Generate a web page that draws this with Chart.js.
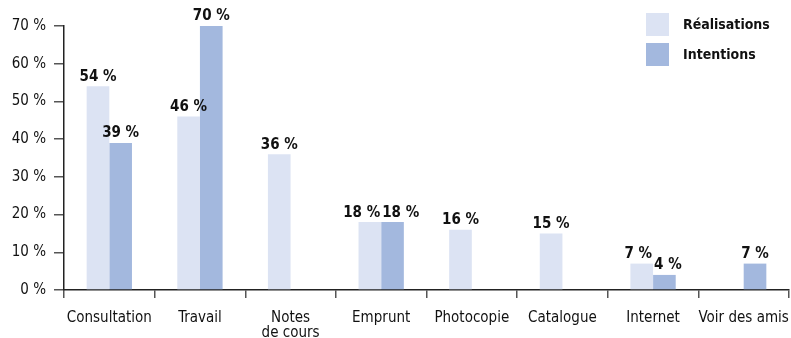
<!DOCTYPE html>
<html>
<head>
<meta charset="utf-8">
<script src="https://cdn.jsdelivr.net/npm/chart.js@4"></script>
<style>
  html, body { margin: 0; padding: 0; background: #fff; }
  #wrap { width: 791px; height: 338px; }
</style>
</head>
<body>
<div id="wrap"><canvas id="c" width="791" height="338"></canvas></div>
<script>
const categories = ['Consultation', 'Travail', ['Notes', 'de cours'], 'Emprunt', 'Photocopie', 'Catalogue', 'Internet', 'Voir des amis'];
const realisations = [54, 46, 36, 18, 16, 15, 7, null];
const intentions = [39, 70, null, 18, null, null, 4, 7];
const yTicks = [0, 10, 20, 30, 40, 50, 60, 70];

const FONT = "'Liberation Sans Narrow', 'DejaVu Sans Condensed', 'Noto Sans', sans-serif";
const LIGHT = 'rgb(220,227,243)';
const DARK = 'rgb(163,184,222)';

// Value labels above each bar; side-by-side labels at the same height are pushed apart
const valueLabels = {
  id: 'valueLabels',
  afterDatasetsDraw(chart) {
    const ctx = chart.ctx;
    ctx.save();
    ctx.font = "bold 15px " + FONT;
    ctx.fillStyle = '#111';
    ctx.textAlign = 'center';
    ctx.textBaseline = 'bottom';
    const n = chart.data.labels.length;
    for (let j = 0; j < n; j++) {
      const items = [];
      chart.data.datasets.forEach((ds, i) => {
        const v = ds.data[j];
        if (v === null || v === undefined) return;
        const bar = chart.getDatasetMeta(i).data[j];
        const text = v + ' %';
        items.push({ text, x: bar.x, y: bar.y - 2, w: ctx.measureText(text).width });
      });
      if (items.length === 2 && Math.abs(items[0].y - items[1].y) < 13) {
        const need = (items[0].w + items[1].w) / 2 + 2;
        const have = items[1].x - items[0].x;
        if (have < need) {
          const d = (need - have) / 2;
          items[0].x -= d;
          items[1].x += d;
        }
      }
      items.forEach(it => ctx.fillText(it.text, it.x, it.y));
    }
    ctx.restore();
  }
};

// Legend boxes in the top right corner
const cornerLegend = {
  id: 'cornerLegend',
  afterDraw(chart) {
    const ctx = chart.ctx;
    ctx.save();
    ctx.font = "bold 14px " + FONT;
    ctx.textBaseline = 'middle';
    ctx.textAlign = 'left';
    chart.data.datasets.forEach((ds, i) => {
      const y = 13 + i * 30;
      ctx.fillStyle = ds.backgroundColor;
      ctx.fillRect(646, y, 23, 23);
      ctx.fillStyle = '#111';
      ctx.fillText(ds.label, 683, y + 12);
    });
    ctx.restore();
  }
};

new Chart(document.getElementById('c'), {
  type: 'bar',
  data: {
    labels: categories,
    datasets: [
      { label: 'Réalisations', data: realisations, backgroundColor: LIGHT },
      { label: 'Intentions', data: intentions, backgroundColor: DARK }
    ]
  },
  options: {
    responsive: false,
    animation: false,
    layout: { padding: { top: 26, right: 2, left: 0, bottom: 0 } },
    plugins: { legend: { display: false }, tooltip: { enabled: false } },
    datasets: { bar: { categoryPercentage: 0.5, barPercentage: 1.0 } },
    scales: {
      x: {
        grid: { display: true, drawOnChartArea: false, drawTicks: true, tickLength: 8, color: '#555', lineWidth: 1.5, offset: true },
        border: { display: true, color: '#222', width: 1.5 },
        ticks: { color: '#111', font: { family: FONT, size: 15, lineHeight: 1.0 }, padding: 13, maxRotation: 0, autoSkip: false },
        afterFit(scale) {
          scale.height = 48;
          scale.paddingLeft = 0;
          scale.paddingRight = 0;
        }
      },
      y: {
        min: 0, max: 70,
        afterBuildTicks(scale) { scale.ticks = yTicks.map(v => ({ value: v })); },
        grid: { display: true, drawOnChartArea: false, drawTicks: true, tickLength: 10, color: '#555', lineWidth: 1.5 },
        border: { display: true, color: '#222', width: 1.5 },
        ticks: { color: '#111', font: { family: FONT, size: 15 }, padding: 8, callback: v => v + ' %' },
        afterFit(scale) { scale.width = 64; }
      }
    }
  },
  plugins: [valueLabels, cornerLegend]
});
</script>
</body>
</html>
